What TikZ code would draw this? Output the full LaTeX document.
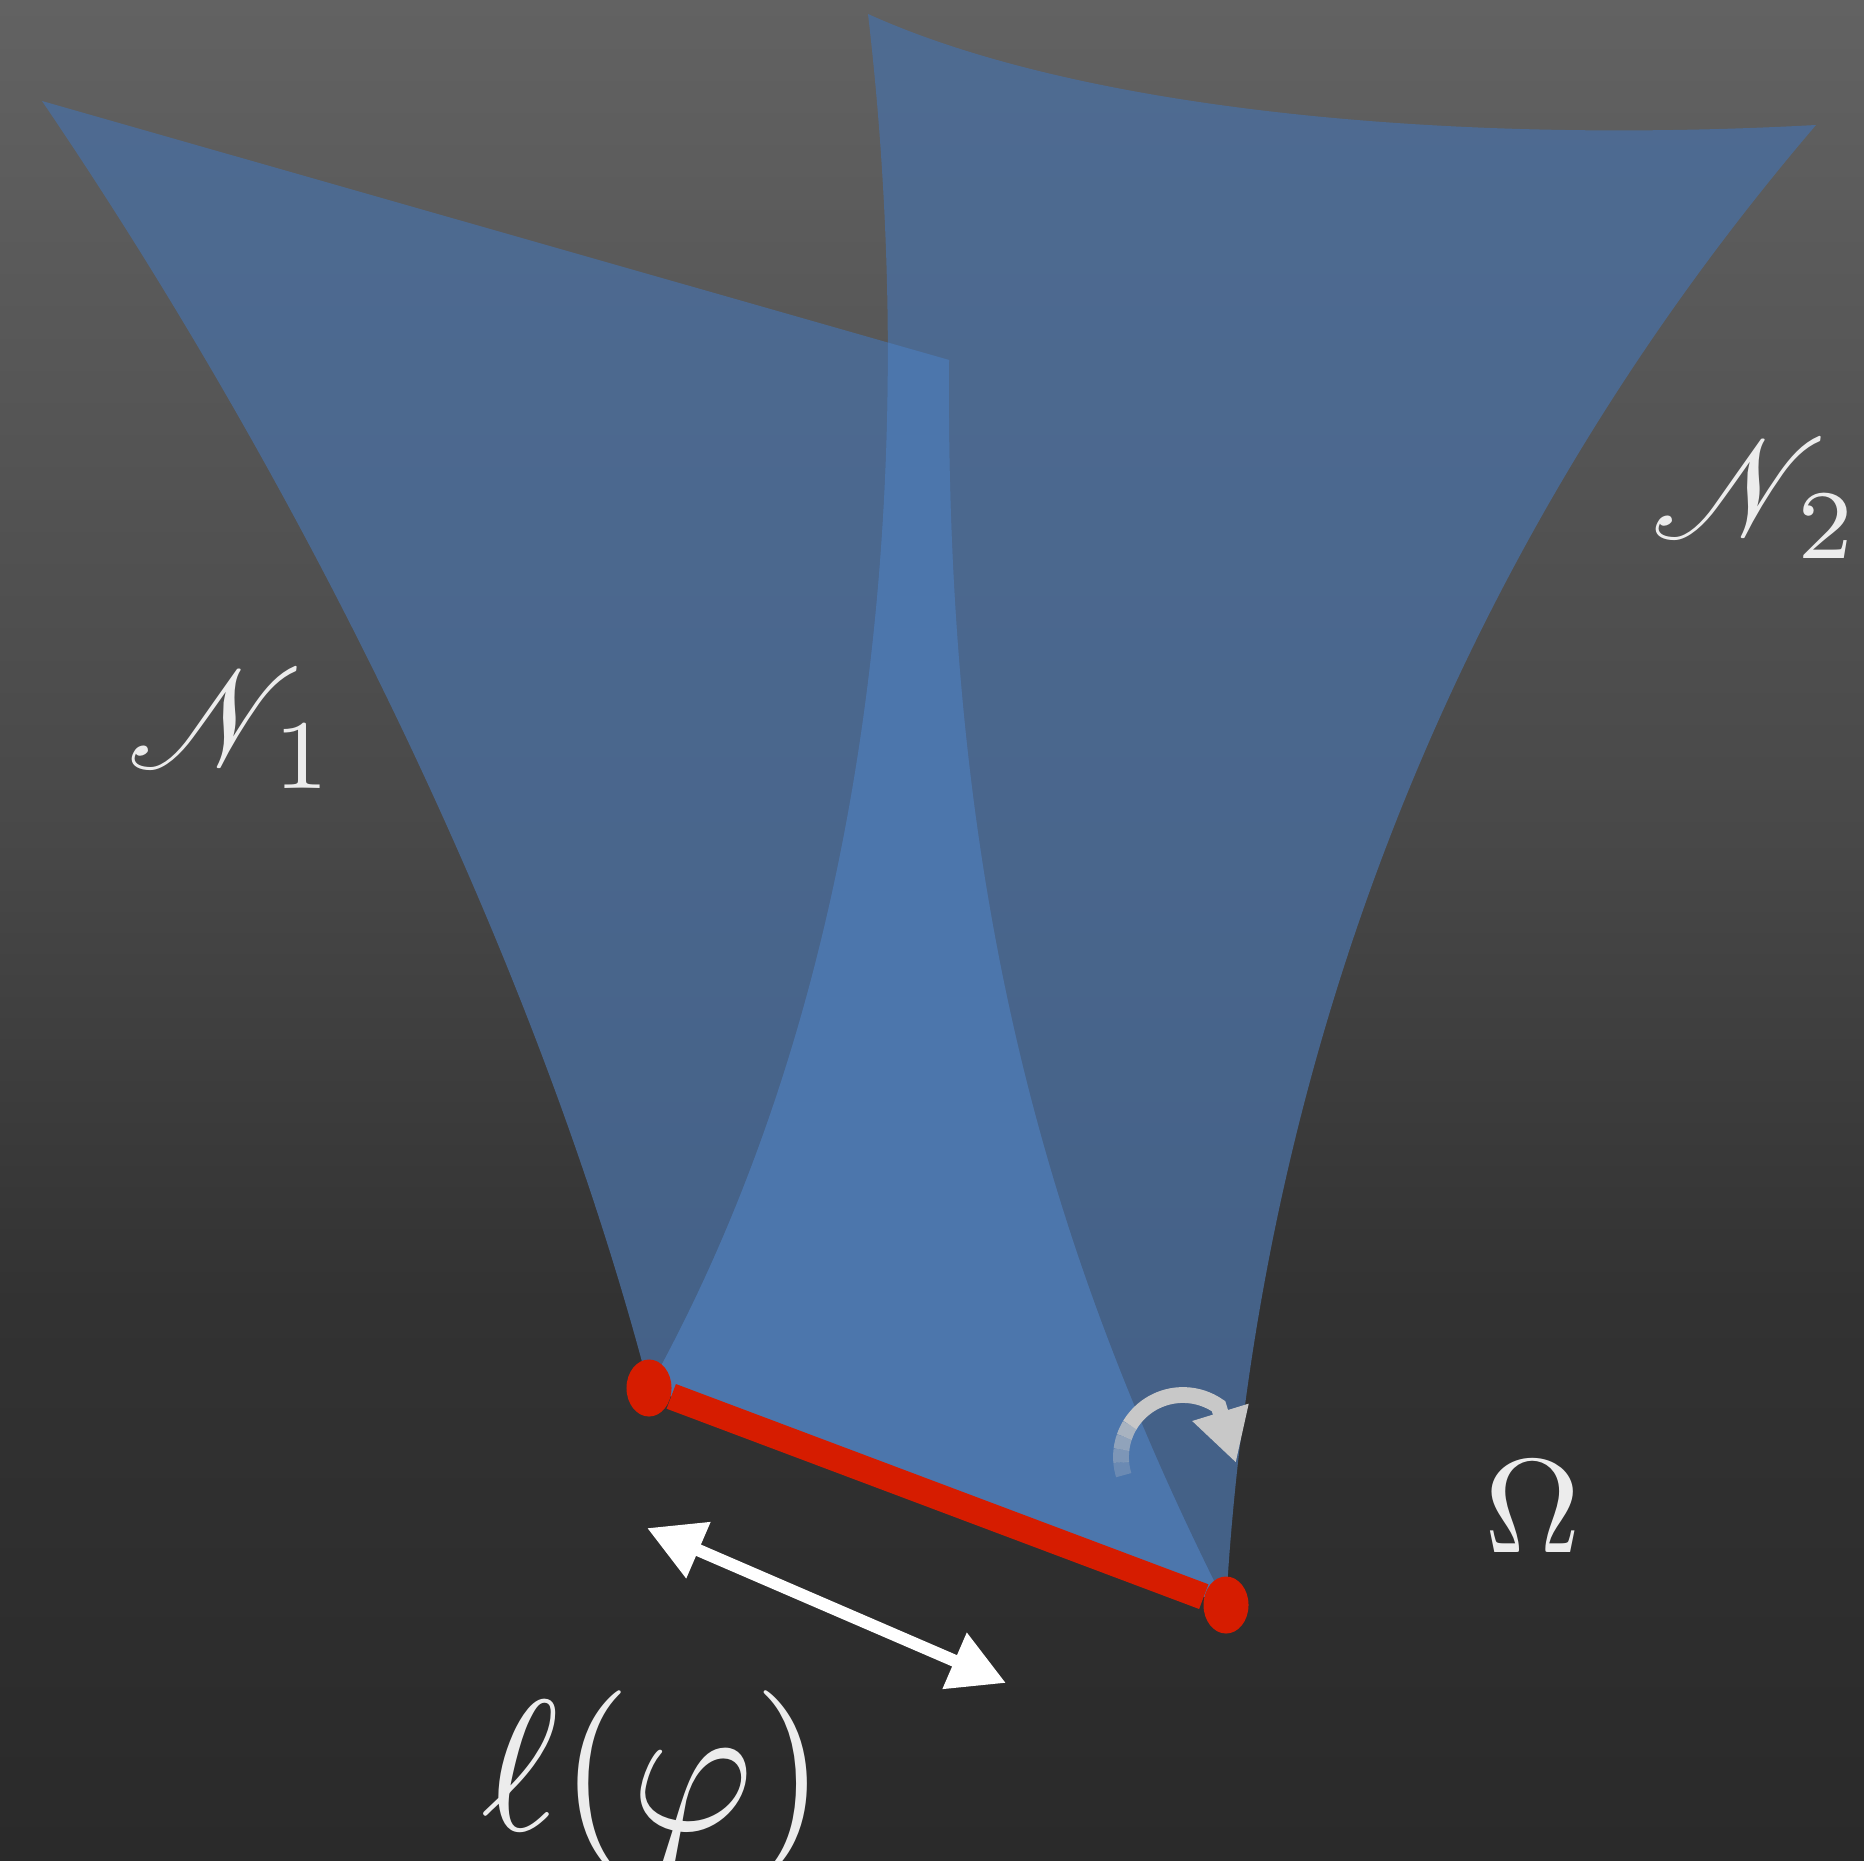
\documentclass[tikz,border=0pt]{standalone}
\usepackage{amsmath,amssymb}
\usepackage{mathrsfs}
\usetikzlibrary{arrows.meta,shapes.geometric}

\definecolor{bgtop}{RGB}{98,98,98}
\definecolor{bgupper}{RGB}{72,72,72}
\definecolor{bglower}{RGB}{50,50,50}
\definecolor{bgbot}{RGB}{42,42,42}
\definecolor{sheetblue}{RGB}{74,110,158}
\definecolor{overlapblue}{RGB}{76,118,172}
\definecolor{segred}{RGB}{214,28,0}
\definecolor{turngray}{RGB}{200,200,200}
\definecolor{lbltext}{RGB}{236,236,236}

% the picture area is the band from 25bp to 75bp
\pgfdeclareverticalshading{backdrop}{100bp}{color(0bp)=(bgbot); color(25bp)=(bgbot);
  color(40bp)=(bglower); color(52.5bp)=(bgupper); color(75bp)=(bgtop); color(100bp)=(bgtop)}

% outlines of the two sheets
\newcommand{\sheetone}{(a1) -- (b1) .. controls (945,892) and (1046,1248) .. (qt)
  -- (pt) .. controls (535,951) and (297,476) .. (a1) -- cycle}
\newcommand{\sheettwo}{(a2) .. controls (1080,110) and (1450,145) .. (b2)
  .. controls (1486,511) and (1260,1010) .. (qt)
  -- (pt) .. controls (892,951) and (915,416) .. (a2) -- cycle}

\begin{document}
\begin{tikzpicture}[
    x=0.01cm, y=-0.01cm,
    region/.style={fill=sheetblue, fill opacity=0.8},
    overlap/.style={fill=overlapblue},
    dot/.style={ellipse, fill=segred, inner sep=0pt,
                minimum width=0.45cm, minimum height=0.57cm},
    segline/.style={draw=segred, line width=7.5pt},
    lenarrow/.style={draw=white, line width=3.5pt,
                {Triangle[length=0.56cm,width=0.58cm]}-{Triangle[length=0.56cm,width=0.58cm]}},
    turnarrow/.style={draw=turngray, line width=4.5pt},
    lbl/.style={text=lbltext, inner sep=0pt}
]

\useasboundingbox (0,0) rectangle (1864,1861);
\shade[shading=backdrop] (0,0) rectangle (1864,1861);

\coordinate (a1) at (42,101);
\coordinate (b1) at (949,360);
\coordinate (a2) at (868,14);
\coordinate (b2) at (1816,125);
\coordinate (pt) at (649,1388);
\coordinate (qt) at (1226,1605);

\path[region] \sheetone;
\path[region] \sheettwo;
\begin{scope}
  \clip \sheetone;
  \path[overlap] \sheettwo;
\end{scope}

\node[dot] (p) at (pt) {};
\node[dot] (q) at (qt) {};
\draw[segline] (p) -- (q);

\coordinate (lenL) at (647,1528);
\coordinate (lenR) at (1006,1683);
\draw[lenarrow] (lenL) -- (lenR);

% turning arrow, faded at its start
\coordinate (turnc) at (1183,1457);
\coordinate (turntip) at (1236,1463);
\foreach \a/\b/\o in {163/175/0.25, 175/187/0.4, 187/199/0.55, 199/211/0.75}
  \draw[turnarrow, draw opacity=\o] ([shift={(\a:62)}]turnc)
    arc[start angle=\a, end angle=\b, radius=62];
\draw[turnarrow, -{Triangle[length=0.53cm,width=0.55cm]}] ([shift={(211:62)}]turnc)
  arc[start angle=211, end angle=305, radius=62] -- (turntip);

\node[lbl, scale=4] (n1) at (232,729) {$\mathscr{N}_{\,1}$};
\node[lbl, scale=4] (n2) at (1756,499) {$\mathscr{N}_{\,2}$};
\node[lbl, scale=3.8] (omega) at (1533,1507) {$\Omega$};
\node[lbl, scale=5.3, anchor=base] (ell) at (654,1830) {$\ell(\varphi)$};

\end{tikzpicture}
\end{document}
